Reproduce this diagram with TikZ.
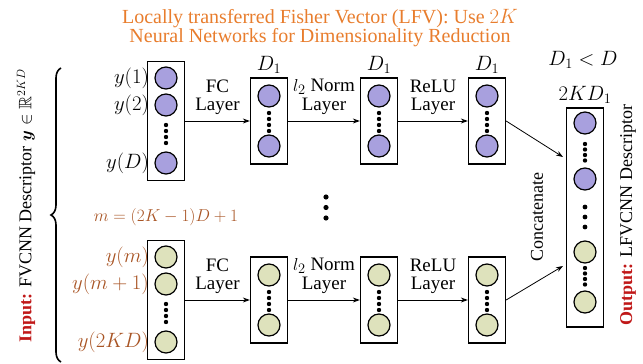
\documentclass[tikz,border=0pt]{standalone}
\usepackage{amsmath}
\usepackage{amssymb}
\usepackage{bm}
\usepackage{fontspec}
\setmainfont{Liberation Serif}
\usetikzlibrary{arrows.meta,positioning,decorations.pathreplacing}

\definecolor{titleorange}{RGB}{232,125,45}
\definecolor{labbrown}{RGB}{168,84,36}
\definecolor{inred}{RGB}{192,24,24}
\definecolor{unitpurple}{RGB}{168,160,222}
\definecolor{unitgreen}{RGB}{222,226,188}

\tikzset{
  layer/.style={draw, line width=1.3pt, minimum width=37pt, inner sep=0pt},
  unit/.style={circle, draw, line width=1.2pt, minimum size=22pt, inner sep=0pt},
  arr/.style={-{Stealth[length=7pt,width=5pt]}, line width=0.8pt},
  lab/.style={align=center, inner sep=1pt, font=\fontsize{19}{18}\selectfont},
  side/.style={rotate=90, font=\fontsize{18}{18}\selectfont},
}

\begin{document}
\begin{tikzpicture}[x=1pt,y=-1pt,font=\fontsize{20}{20}\selectfont]
      \useasboundingbox (0,0) rectangle (643,364);
      % title
      \node[lab, font=\fontsize{20}{18}\selectfont, text=titleorange] (title) at (320,28)
        {Locally transferred Fisher Vector (LFV): Use $2K$\\Neural Networks for Dimensionality Reduction};
      % input brace and label
      \draw [decorate, decoration={brace, amplitude=10pt}, line width=1.6pt] (61,362) -- (61,68);
      \node[side] (inlab) at (26,206)
        {\textcolor{inred}{\textbf{Input:}} FVCNN Descriptor $\bm{y}\in\mathbb{R}^{2KD}$};
      % two rows of networks
      \foreach \row/\yc/\fc in {A/121/unitpurple, B/300/unitgreen} {
        \node[layer, minimum height=119pt] (in\row) at (166,\yc) {};
        \node[unit, fill=\fc] (u1\row) at (166,\yc-43) {};
        \node[unit, fill=\fc] (u2\row) at (166,\yc-16) {};
        \node[unit, fill=\fc] (u3\row) at (166,\yc+42) {};
        \foreach \d in {4,10,16,22}
          \fill (166,\yc+\d) circle (2.2pt);
        \foreach \x/\nm in {269/h, 379/n, 487/r} {
          \node[layer, minimum height=86pt] (\nm\row) at (\x,\yc) {};
          \node[unit, fill=\fc] (\nm1\row) at (\x,\yc-25) {};
          \node[unit, fill=\fc] (\nm2\row) at (\x,\yc+25) {};
          \foreach \d in {-8,-2,4,10}
            \fill (\x,\yc+\d) circle (2.2pt);
        }
        \draw[arr] (in\row) -- node[lab, above=5pt] {FC\\Layer} (h\row);
        \draw[arr] (h\row) -- node[lab, above=5pt] {$l_2$ Norm\\[1.5pt]Layer} (n\row);
        \draw[arr] (n\row) -- node[lab, above=5pt] {ReLU\\Layer} (r\row);
      }
      % input labels
      \node[left=2pt of u1A] (y1) {$y(1)$};
      \node[left=2pt of u2A] (y2) {$y(2)$};
      \node[left=2pt of u3A] (yD) {$y(D)$};
      \node[left=2pt of u1B, text=labbrown] (ym) {$y(m)$};
      \node[left=2pt of u2B, text=labbrown] (ym1) {$y(m+1)$};
      \node[left=2pt of u3B, text=labbrown] (y2KD) {$y(2KD)$};
      \node[text=labbrown, font=\fontsize{17}{17}\selectfont] (meq) at (166,217) {$m=(2K-1)D+1$};
      % layer sizes
      \node[above=0pt of hA] (dh) {$D_1$};
      \node[above=0pt of nA] (dn) {$D_1$};
      \node[above=0pt of rA] (dr) {$D_1$};
      \node (dless) at (583,60) {$D_1 < D$};
      % more networks in between
      \foreach \d in {197,207.5,218}
        \fill (326,\d) circle (2.6pt);
      % output
      \node[layer, minimum height=219pt] (out) at (585,217.5) {};
      \node[above=0pt of out] (dout) {$2KD_1$};
      \node[unit, fill=unitpurple] (o1) at (585,123) {};
      \node[unit, fill=unitpurple] (o2) at (585,179) {};
      \node[unit, fill=unitgreen] (o3) at (585,252) {};
      \node[unit, fill=unitgreen] (o4) at (585,302) {};
      \foreach \d in {144,149.5,155,160.5,268,273.5,279,284.5}
        \fill (585,\d) circle (2.2pt);
      \foreach \d in {207,217,227}
        \fill (585,\d) circle (2.4pt);
      \coordinate (cA) at (563,157);
      \coordinate (cB) at (563,266);
      \draw[arr] (rA.east) -- (cA);
      \draw[arr] (rB.east) -- (cB);
      \node[side] (cat) at (537,217) {Concatenate};
      \node[side] (outlab) at (628,215)
        {\textcolor{inred}{\textbf{Output:}} LFVCNN Descriptor};
    \end{tikzpicture}
\end{document}
